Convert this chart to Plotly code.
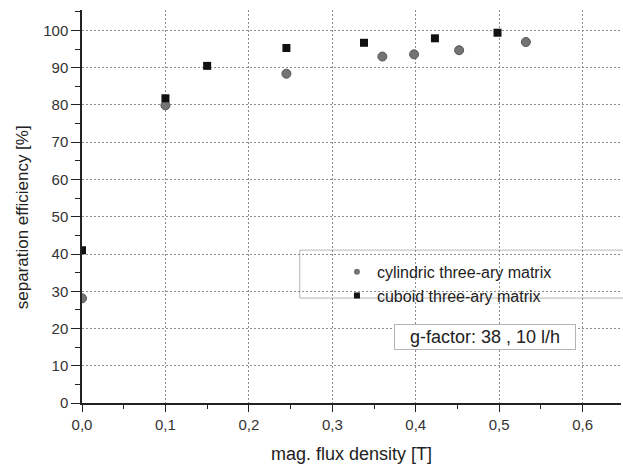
import plotly.graph_objects as go

cyl_x = [0.0, 0.10, 0.245, 0.36, 0.398, 0.452, 0.532]
cyl_y = [28.1, 79.9, 88.4, 93.0, 93.6, 94.7, 96.9]
cub_x = [0.0, 0.10, 0.15, 0.245, 0.338, 0.423, 0.498]
cub_y = [41.0, 81.8, 90.5, 95.3, 96.7, 97.9, 99.4]

x_ticks = [0.0, 0.1, 0.2, 0.3, 0.4, 0.5, 0.6]
x_labels = ["0,0", "0,1", "0,2", "0,3", "0,4", "0,5", "0,6"]
y_ticks = [0, 10, 20, 30, 40, 50, 60, 70, 80, 90, 100]

FONT = "Liberation Sans, Arial, sans-serif"
INK = "#222222"
CYL_COLOR = "#747474"
CUB_COLOR = "#111111"

fig = go.Figure()
fig.add_trace(go.Scatter(x=cyl_x, y=cyl_y, mode="markers", name="cylindric three-ary matrix",
                         showlegend=False,
                         marker=dict(symbol="circle", size=9, color=CYL_COLOR,
                                     line=dict(width=1, color="#555555"))))
fig.add_trace(go.Scatter(x=cub_x, y=cub_y, mode="markers", name="cuboid three-ary matrix",
                         showlegend=False,
                         marker=dict(symbol="square", size=8, color=CUB_COLOR)))
# legend entries with the small symbols of the reference legend
fig.add_trace(go.Scatter(x=[None], y=[None], mode="markers", name="cylindric three-ary matrix",
                         marker=dict(symbol="circle", size=6, color=CYL_COLOR)))
fig.add_trace(go.Scatter(x=[None], y=[None], mode="markers", name="cuboid three-ary matrix",
                         marker=dict(symbol="square", size=6, color=CUB_COLOR)))

grid = dict(showgrid=True, gridcolor="#8c8c8c", griddash="2px,2px", gridwidth=1,
            showline=True, linecolor=INK, linewidth=1.5, zeroline=False, automargin=False,
            ticks="outside", tickcolor=INK, tickfont=dict(family=FONT, size=15, color="#333333"))

fig.update_layout(
    width=623, height=466,
    margin=dict(l=82, r=2, t=10, b=63),
    paper_bgcolor="white", plot_bgcolor="white",
    font=dict(family=FONT, size=15, color=INK),
    showlegend=True,
    legend=dict(x=0.473, y=0.377, xanchor="left", yanchor="top",
                borderwidth=0, bgcolor="rgba(0,0,0,0)",
                font=dict(family=FONT, size=16, color=INK),
                tracegroupgap=0),
    xaxis=dict(range=[0, 0.646], tickvals=x_ticks, ticktext=x_labels, ticklen=7,
               minor=dict(dtick=0.05, ticks="outside", ticklen=4, tickcolor=INK, showgrid=False),
               **grid),
    yaxis=dict(range=[0, 105.5], tickvals=y_ticks, ticklen=9,
               minor=dict(dtick=5, ticks="outside", ticklen=5, tickcolor=INK, showgrid=False),
               **grid),
    shapes=[dict(type="rect", xref="paper", yref="paper", x0=0.404, x1=1.01, y0=0.267, y1=0.389,
                 line=dict(color="#b5b5b5", width=1), fillcolor="white", layer="below")],
    annotations=[
        dict(x=0.748, y=0.169, xref="paper", yref="paper", xanchor="center", yanchor="middle",
             text="g-factor: 38 , 10 l/h", showarrow=False, width=176, height=20,
             font=dict(family=FONT, size=18, color=INK),
             bordercolor="#b5b5b5", borderwidth=1, borderpad=2, bgcolor="white"),
        dict(x=0.5, y=-0.129, xref="paper", yref="paper", xanchor="center", yanchor="middle",
             text="mag. flux density [T]",
             showarrow=False, font=dict(family=FONT, size=18, color=INK)),
        dict(x=-0.111, y=0.473, xref="paper", yref="paper", xanchor="center", yanchor="middle",
             text="separation efficiency [%]",
             showarrow=False, textangle=-90, font=dict(family=FONT, size=17, color=INK)),
    ],
)

fig.write_html("out.html", config={"displayModeBar": False},
               post_script="document.body.style.margin='0';document.body.style.overflow='hidden';")
